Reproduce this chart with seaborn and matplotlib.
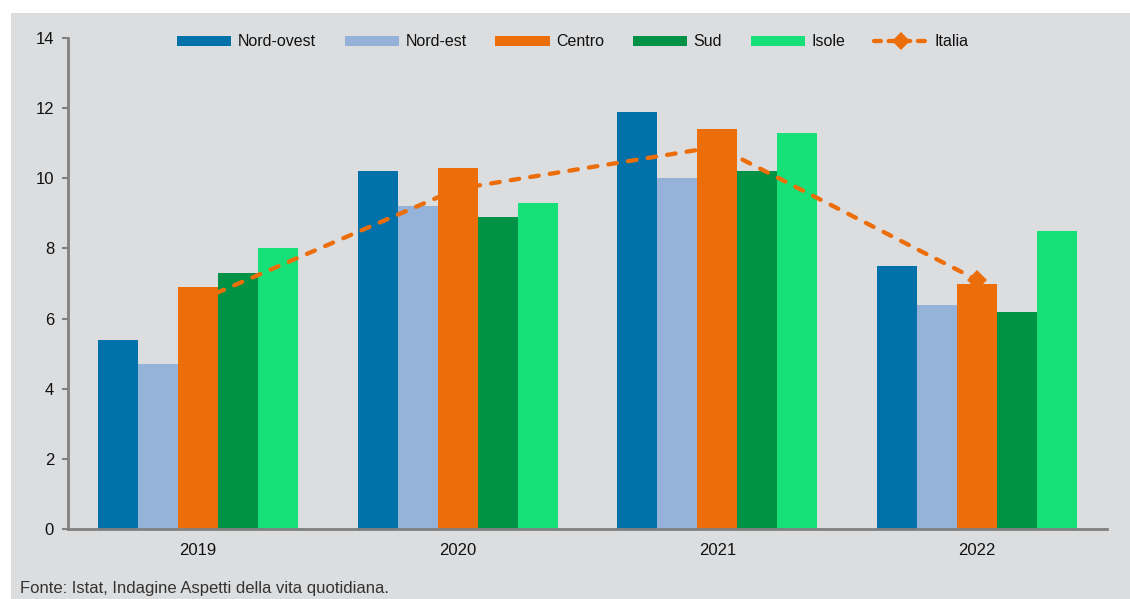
import numpy as np
import pandas as pd
import matplotlib
matplotlib.use("Agg")
import matplotlib.pyplot as plt
from matplotlib.patches import Rectangle, Patch
from matplotlib.lines import Line2D
import seaborn as sns

# ---- data ----
anni = ["2019", "2020", "2021", "2022"]
aree = ["Nord-ovest", "Nord-est", "Centro", "Sud", "Isole"]
nord_ovest = [5.4, 10.2, 11.9, 7.5]
nord_est = [4.7, 9.2, 10.0, 6.4]
centro = [6.9, 10.3, 11.4, 7.0]
sud = [7.3, 8.9, 10.2, 6.2]
isole = [8.0, 9.3, 11.3, 8.5]
italia = [6.5, 9.7, 10.9, 7.1]
yticks = [0, 2, 4, 6, 8, 10, 12, 14]
fonte = "Fonte: Istat, Indagine Aspetti della vita quotidiana."

colori = ["#0071A9", "#95B3D8", "#EC6E0A", "#009345", "#17E079"]
col_italia = "#EC6E0A"
bg = "#DCDDDF"
spine_col = "#808080"

df = pd.DataFrame({
    "anno": np.repeat(anni, len(aree)),
    "area": aree * len(anni),
    "valore": [v for vals in zip(nord_ovest, nord_est, centro, sud, isole) for v in vals],
})

sns.set_theme(style="white")
plt.rcParams["font.family"] = ["Liberation Sans", "DejaVu Sans"]

fig = plt.figure(figsize=(11.30, 5.99), dpi=100)
fig.patch.set_facecolor("white")
fig.add_artist(Rectangle((11 / 1130, 0), 1, 1 - 13 / 599, transform=fig.transFigure,
                         facecolor=bg, edgecolor="none", zorder=-10))

ax = fig.add_axes([68 / 1130, 1 - 529 / 599, (1107 - 68) / 1130, (529 - 38) / 599])
ax.set_facecolor("none")

sns.barplot(data=df, x="anno", y="valore", hue="area", hue_order=aree,
            palette=colori, width=0.77, saturation=1, dodge=True,
            edgecolor="none", linewidth=0, ax=ax, legend=False, zorder=2)

sns.lineplot(x=np.arange(len(anni)), y=italia, ax=ax, color=col_italia,
             linewidth=3.1, linestyle=(0, (2.0, 2.6)), dash_capstyle="round",
             marker="D", markersize=10, markeredgewidth=0, zorder=3, legend=False)

ax.set_xlim(-0.5, 3.5)
ax.set_ylim(0, 14)
ax.set_yticks(yticks)
ax.set_yticklabels([str(t) for t in yticks], fontsize=12, color="#111111")
ax.set_xticks(np.arange(len(anni)))
ax.set_xticklabels(anni, fontsize=12, color="#111111")
ax.set_xlabel("")
ax.set_ylabel("")

# boundary ticks between groups
ax.set_xticks(np.arange(-0.5, 3.6, 1.0), minor=True)
ax.tick_params(axis="x", which="major", length=0, pad=10)
ax.tick_params(axis="x", which="minor", length=5, width=2, color=spine_col, direction="out")
ax.tick_params(axis="y", which="major", length=4, width=1.5, color=spine_col,
               direction="out", pad=6, left=True)

for s in ["top", "right"]:
    ax.spines[s].set_visible(False)
for s in ["left", "bottom"]:
    ax.spines[s].set_color(spine_col)
    ax.spines[s].set_linewidth(2)

handles = [Patch(facecolor=c, edgecolor="none") for c in colori]
handles.append(Line2D([0], [0], color=col_italia, linewidth=3.1, linestyle=(0, (1.6, 1.8)),
                      dash_capstyle="round", marker="D", markersize=9, markeredgewidth=0))
leg = fig.legend(handles, aree + ["Italia"], loc="center", ncol=6,
                 bbox_to_anchor=(573 / 1130, 1 - 42 / 599), frameon=False,
                 prop={"size": 11.5},
                 handlelength=3.4, handleheight=0.65, handletextpad=0.4,
                 columnspacing=1.8, borderaxespad=0)
for t in leg.get_texts():
    t.set_color("#111111")

fig.text(20 / 1130, 1 - 588 / 599, fonte, ha="left", va="center",
         fontsize=12, color="#333333")

fig.savefig("out.png", dpi=100, facecolor=fig.get_facecolor())
